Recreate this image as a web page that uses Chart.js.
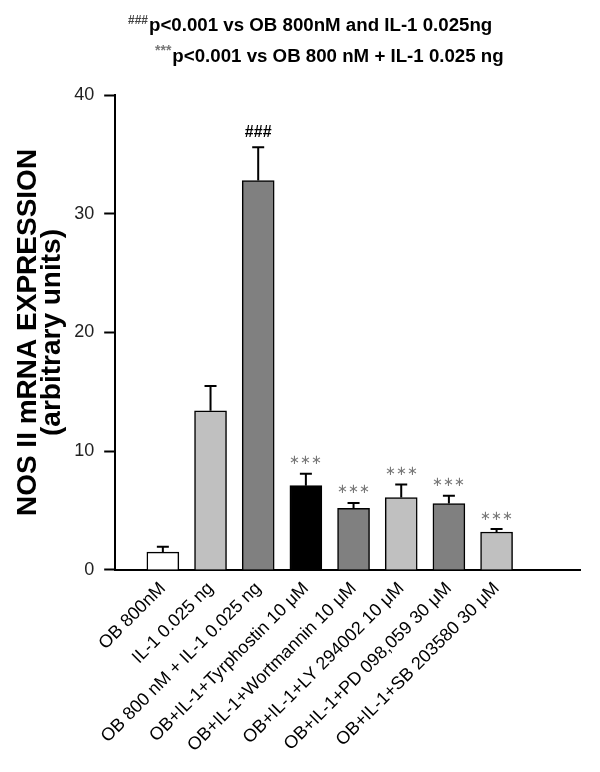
<!DOCTYPE html>
<html>
<head>
<meta charset="utf-8">
<script src="https://cdn.jsdelivr.net/npm/chart.js@4/dist/chart.umd.min.js"></script>
<style>
  html, body { margin: 0; padding: 0; background: #fff; }
  #wrap { width: 600px; height: 772px; position: relative; }
</style>
</head>
<body>
<div id="wrap"><canvas id="nosChart"></canvas></div>
<script>
const groups = [
  'OB 800nM',
  'IL-1 0.025 ng',
  'OB 800 nM + IL-1 0.025 ng',
  'OB+IL-1+Tyrphostin 10 \u03BCM',
  'OB+IL-1+Wortmannin 10 \u03BCM',
  'OB+IL-1+LY 294002 10 \u03BCM',
  'OB+IL-1+PD 098,059 30 \u03BCM',
  'OB+IL-1+SB 203580 30 \u03BCM'
];
const means = [1.5, 13.4, 32.8, 7.1, 5.2, 6.1, 5.6, 3.2];
const sems = [0.45, 2.1, 2.8, 1.0, 0.45, 1.1, 0.65, 0.25];
const marks = ['', '', '###', '***', '***', '***', '***', '***'];
const yTicks = [0, 10, 20, 30, 40];
const barColors = ['#ffffff', '#c0c0c0', '#808080', '#000000', '#808080', '#c0c0c0', '#808080', '#c0c0c0'];

const FONT = "'Liberation Sans', Arial, sans-serif";

// error bars (upper only) and significance marks
const errorBars = {
  id: 'errorBars',
  afterDatasetsDraw(chart) {
    const ctx = chart.ctx;
    const y = chart.scales.y;
    const meta = chart.getDatasetMeta(0);
    ctx.save();
    meta.data.forEach((bar, i) => {
      const top = y.getPixelForValue(means[i] + sems[i]);
      ctx.strokeStyle = '#000';
      ctx.lineWidth = 2;
      ctx.beginPath();
      ctx.moveTo(bar.x, bar.y);
      ctx.lineTo(bar.x, top);
      ctx.moveTo(bar.x - 6, top);
      ctx.lineTo(bar.x + 6, top);
      ctx.stroke();
      if (marks[i]) {
        ctx.textAlign = 'center';
        ctx.textBaseline = 'middle';
        if (marks[i] === '###') {
          ctx.fillStyle = '#000';
          ctx.font = 'bold 16px ' + FONT;
          ctx.fillText(marks[i], bar.x, top - 15);
        } else {
          ctx.fillStyle = '#777';
          ctx.font = '13px ' + FONT;
          ctx.fillText('\u2217\u2217\u2217', bar.x, top - 13);
        }
      }
    });
    ctx.restore();
  }
};

// two header lines with superscript symbols
const header = {
  id: 'header',
  afterDraw(chart) {
    const ctx = chart.ctx;
    ctx.save();
    ctx.textBaseline = 'alphabetic';
    ctx.textAlign = 'left';
    const lines = [
      { sup: '###', text: 'p<0.001 vs OB 800nM and IL-1 0.025ng', x: 128, y: 31, supColor: '#444', supSize: 12 },
      { sup: '***', text: 'p<0.001 vs OB 800 nM + IL-1 0.025 ng', x: 155, y: 62, supColor: '#777', supSize: 14 }
    ];
    lines.forEach(l => {
      ctx.font = 'bold ' + l.supSize + 'px ' + FONT;
      ctx.fillStyle = l.supColor;
      ctx.fillText(l.sup, l.x, l.y - 7);
      const w = ctx.measureText(l.sup).width;
      ctx.font = 'bold 18.7px ' + FONT;
      ctx.fillStyle = '#000';
      ctx.fillText(l.text, l.x + w + 1, l.y);
    });
    ctx.restore();
  }
};

new Chart(document.getElementById('nosChart'), {
  type: 'bar',
  data: {
    datasets: [{
      data: means.map((v, i) => ({ x: i, y: v })),
      backgroundColor: barColors,
      borderColor: '#000',
      borderWidth: 1.5,
      barThickness: 32
    }]
  },
  options: {
    responsive: true,
    maintainAspectRatio: false,
    animation: false,
    layout: { padding: { top: 95, right: 20, left: 16, bottom: 8 } },
    plugins: {
      legend: { display: false },
      tooltip: { enabled: false }
    },
    scales: {
      x: {
        type: 'linear',
        offset: false,
        min: -1,
        max: 8.75,
        grid: { display: false, drawTicks: false, offset: false },
        border: { display: true, color: '#000', width: 2 },
        afterBuildTicks(scale) {
          scale.ticks = groups.map((g, i) => ({ value: i }));
        },
        ticks: {
          autoSkip: false,
          minRotation: 45,
          maxRotation: 45,
          padding: 8,
          color: '#000',
          font: { family: FONT, size: 18 },
          callback: (v) => groups[v] || ''
        }
      },
      y: {
        min: 0,
        max: 40,
        afterBuildTicks(scale) {
          scale.ticks = yTicks.map(v => ({ value: v }));
        },
        grid: { display: true, drawOnChartArea: false, tickLength: 11, color: '#000', tickWidth: 2 },
        border: { display: true, color: '#000', width: 2 },
        ticks: {
          padding: 10,
          color: '#222',
          font: { family: FONT, size: 18 }
        },
        title: {
          display: true,
          text: ['NOS II mRNA EXPRESSION', '(arbitrary units)'],
          color: '#000',
          font: { family: FONT, size: 28, weight: 'bold', lineHeight: 0.86 },
          padding: { top: 0, bottom: 0 }
        }
      }
    }
  },
  plugins: [errorBars, header]
});
</script>
</body>
</html>
